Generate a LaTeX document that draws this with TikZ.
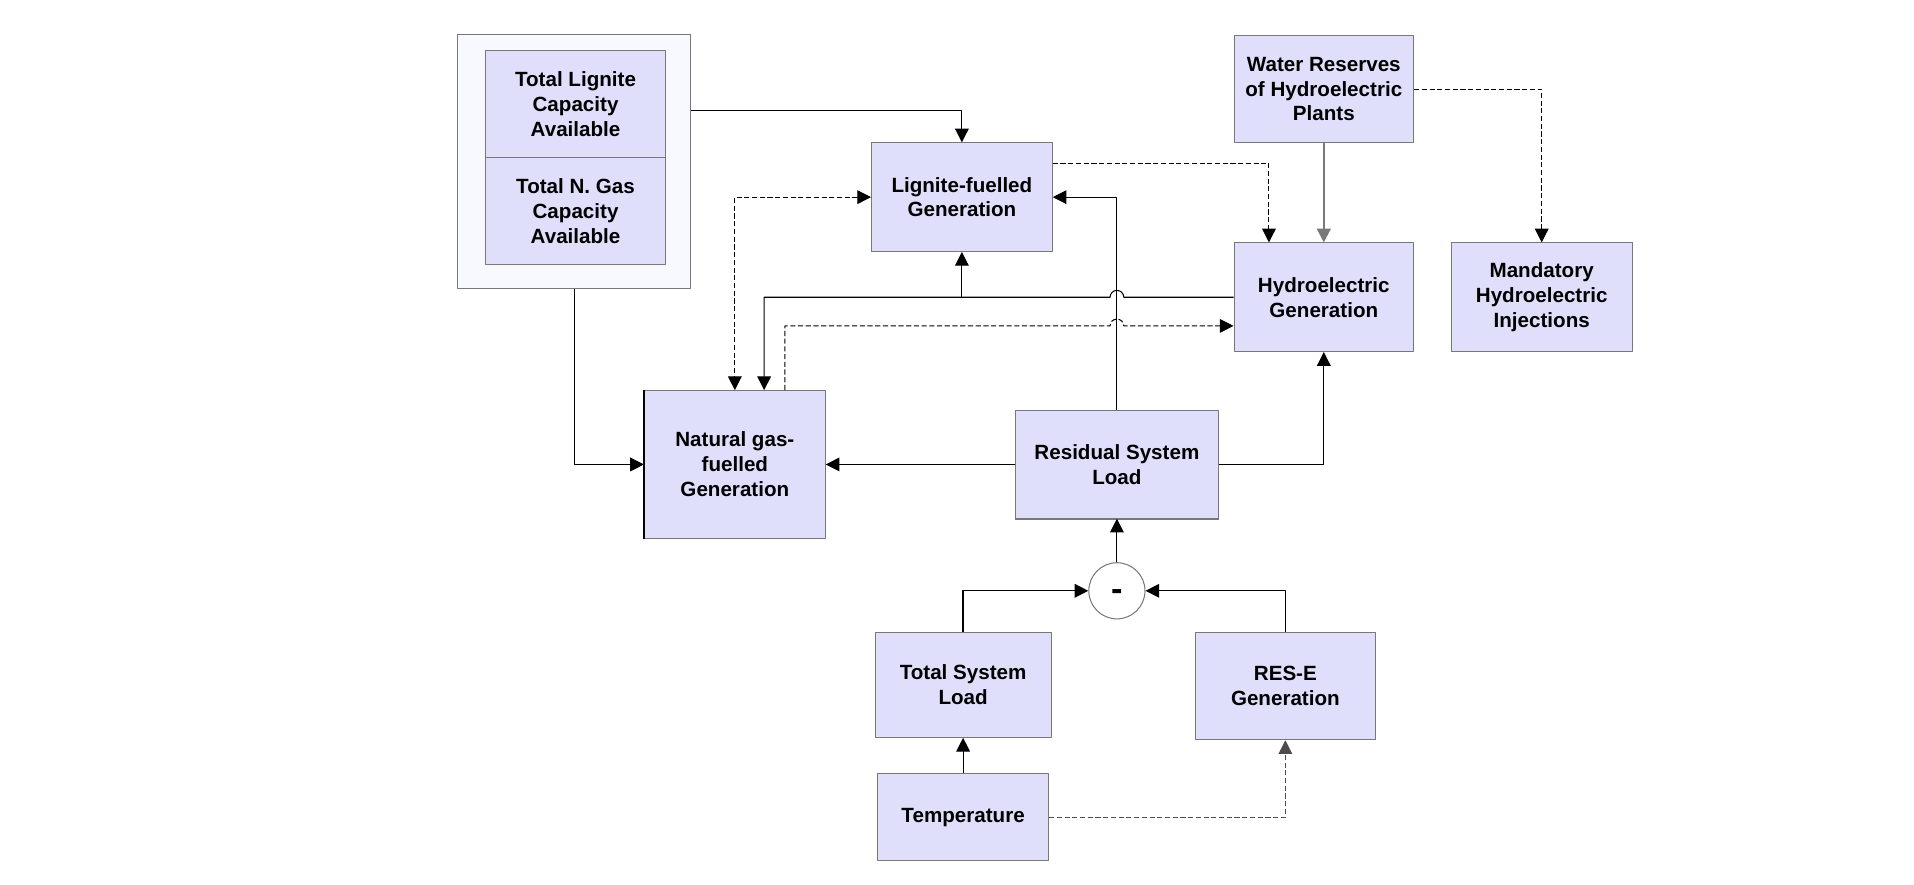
\documentclass[tikz,border=0pt]{standalone}
\usepackage{fontspec}
\setmainfont{Liberation Sans}
\usepackage{xcolor}
\usetikzlibrary{arrows.meta,calc}

\definecolor{boxfill}{RGB}{223,223,252}
\definecolor{outerfill}{RGB}{248,248,255}
\definecolor{boxline}{RGB}{120,120,120}

\tikzset{
  blk/.style={draw=boxline, fill=boxfill, align=center, inner sep=2pt,
    font=\fontsize{12}{14.5}\selectfont\bfseries},
  arr/.style={-{Triangle[length=8pt,width=8pt]}},
  dsh/.style={dash pattern=on 3pt off 1.5pt},
}

\begin{document}
\begin{tikzpicture}[x=0.025cm, y=-0.025cm, line join=round, semithick]
  \useasboundingbox (0,0) rectangle (1568,725);
  % capacities
  \node[draw=boxline, fill=outerfill, minimum width=4.775cm, minimum height=5.2cm] (cap) at (470.5,132) {};
  \node[blk, minimum width=3.675cm, minimum height=2.2cm] (capL) at (471.5,85) {Total Lignite\\Capacity\\Available};
  \node[blk, minimum width=3.675cm, minimum height=2.2cm] (capG) at (471.5,173) {Total N. Gas\\Capacity\\Available};
  % generation blocks
  \node[blk, minimum width=3.7cm, minimum height=2.225cm] (lig) at (788,161.5) {Lignite-fuelled\\Generation};
  \node[blk, minimum width=3.675cm, minimum height=2.2cm] (water) at (1084.5,73) {Water Reserves\\of Hydroelectric\\Plants};
  \node[blk, minimum width=3.675cm, minimum height=2.225cm] (hydro) at (1084.5,243.5) {Hydroelectric\\Generation};
  \node[blk, minimum width=3.7cm, minimum height=2.225cm] (mand) at (1263,243.5) {Mandatory\\Hydroelectric\\Injections};
  \node[blk, minimum width=3.7cm, minimum height=3.025cm] (ngas) at (602,380.5) {Natural gas-\\fuelled\\Generation};
  \node[blk, minimum width=4.15cm, minimum height=2.2cm] (resid) at (915,380.5) {Residual System\\Load};
  % load side
  \node[draw=boxline, fill=white, circle, minimum size=1.15cm, inner sep=0pt, text height=11pt, text depth=0pt,
    font=\fontsize{20}{20}\selectfont\bfseries] (minus) at (915,484) {-};
  \node[blk, minimum width=3.6cm, minimum height=2.15cm] (tsl) at (789,561) {Total System\\Load};
  \node[blk, minimum width=3.7cm, minimum height=2.2cm] (rese) at (1053,562) {RES-E\\Generation};
  \node[blk, minimum width=3.5cm, minimum height=1.775cm] (temp) at (789,669.5) {Temperature};
  \draw[line width=1.4pt] (ngas.north west) -- (ngas.south west);
  \draw[boxline, line width=1.4pt] (resid.south west) -- (resid.south east);

  % helper points
  \coordinate (hopA) at (resid.north |- hydro.west);
  \coordinate (ngA) at ($(ngas.north)+(24,0)$);
  \coordinate (ngB) at ($(ngas.north)+(41,0)$);
  \coordinate (dshY) at ($(hydro.west)+(0,23.5)$);
  \coordinate (hopB) at (resid.north |- dshY);
  \coordinate (ligR) at ($(lig.north east)+(0,17)$);
  \coordinate (hydT) at ($(hydro.north west)+(29,0)$);

  % connectors
  \draw[arr] ($(cap.north east)!0.3!(cap.south east)$) -| (lig.north);
  \draw[arr] (cap.south) |- (ngas.west);
  \draw[dsh, {Triangle[length=8pt,width=8pt]}-{Triangle[length=8pt,width=8pt]}] (lig.west) -| (ngas.north);
  \draw[dsh, arr] (ligR) -| (hydT);
  \draw[arr, boxline, line width=1.2pt] (water.south) -- (hydro.north);
  \draw[dsh, arr] (water.east) -| (mand.north);
  \draw[arr] (hydro.west) -- ($(hopA)+(4pt,0)$) arc[start angle=0, end angle=180, radius=4pt]
    -- (ngA |- hydro.west) -- (ngA);
  \draw[arr] (lig.south |- hydro.west) -- (lig.south);
  \draw[dsh, arr] (ngB) |- ($(hopB)-(4pt,0)$) arc[start angle=180, end angle=0, radius=4pt] -- (dshY);
  \draw[arr] (resid.north) |- (lig.east);
  \draw[arr] (resid.west) -- (ngas.east);
  \draw[arr] (resid.east) -| (hydro.south);
  \draw[arr] (minus.north) -- (resid.south);
  \draw[arr, thick] (tsl.north) |- (minus.west);
  \draw[arr, thick] (rese.north) |- (minus.east);
  \draw[arr] (temp.north) -- (tsl.south);
  \draw[dsh, arr, black!70] (temp.east) -| (rese.south);
\end{tikzpicture}
\end{document}
